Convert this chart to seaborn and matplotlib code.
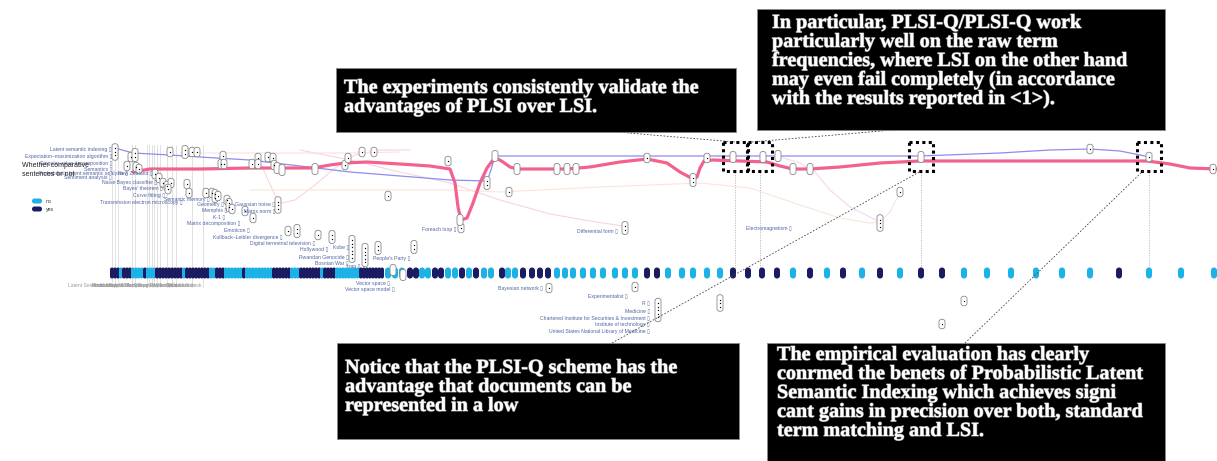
import numpy as np
import pandas as pd
import matplotlib
matplotlib.use("Agg")
import matplotlib.pyplot as plt
import matplotlib.patheffects as pe
from matplotlib.path import Path
from matplotlib.patches import Rectangle, FancyBboxPatch
import seaborn as sns

# ---------------- data ----------------
# sentence track: dense part (sentence positions) and classes (y = comparative, n = not)
dense_pos = [112, 115, 118, 121, 124, 127, 130, 133, 136, 139, 142, 145, 148, 151, 154,
             157, 160, 163, 166, 169, 172, 175, 178, 181, 184, 187, 190, 193, 196, 199,
             202, 205, 208, 211, 214, 217, 220, 223, 226, 229, 232, 235, 238, 241, 244,
             247, 250, 253, 256, 259, 262, 265, 268, 271, 274, 277, 280, 283, 286, 289,
             292, 295, 298, 301, 304, 307, 310, 313, 316, 319, 322, 325, 328, 331, 334,
             337, 340, 343, 346, 349, 352, 355, 358, 361, 364, 367, 370, 373, 376, 379, 382]
dense_cls = list("yyynyyy" "nnnnynnn" "yyyyy" "yyyynyyyyyyyy" "nn" "yyy"
                 "nnnnnnynnnnnnnnn" "yyy" "yyynnn" "yyyyyyynyyyy" "nnnnnnnn" "yyyyyyyy")

sparse_pos = [388, 395, 402, 410, 416, 422, 428, 435, 441, 448, 455, 462, 469, 476, 484, 491,
              502, 508, 515, 523, 532, 540, 548, 557, 565, 573, 583, 593, 603, 615, 625, 635,
              647, 657, 668, 682, 693, 707, 720, 733, 748, 762, 777,
              793, 810, 827, 843, 862, 880, 900, 921, 942, 964, 987, 1011, 1036, 1062, 1090,
              1119, 1149, 1181, 1214]
sparse_cls = list("nnnyynnyynnynynn" "ynnyyyynnnnnnnnnyynnnnnyyyy" "nynynynyynnnnnnynnn")

# main (pink) similarity curve
pink_x = [133, 150, 200, 250, 290, 313, 330, 345, 367, 400, 430, 450, 455, 458, 461, 467,
          473, 480, 487, 493, 498, 503, 510, 517, 540, 567, 590, 620, 647, 667, 680, 693,
          697, 700, 704, 713, 767, 780, 793, 810, 840, 880, 920, 1000, 1100, 1147, 1170,
          1190, 1217]
pink_y = [172, 169, 169, 168, 168, 168, 165, 163, 162, 164, 166, 169, 183, 207, 220, 218,
          203, 183, 168, 160, 159, 162, 167, 169, 169, 169, 167, 162, 159, 163, 172, 179,
          177, 168, 161, 160, 162, 166, 169, 169, 167, 163, 161, 161, 161, 161, 164,
          168, 169]

# secondary (blue) curve
blue_x = [115, 133, 170, 200, 250, 283, 300, 350, 400, 450, 487, 491, 495, 520, 600, 700,
          780, 850, 920, 1000, 1050, 1090, 1120, 1140, 1149]
blue_y = [148, 153, 155, 157, 160, 164, 166, 172, 176, 180, 181, 170, 156, 156, 156, 156,
          156, 156, 156, 153, 150, 149, 151, 155, 157]

# faint topic curves
faint = {
    "f1": ([262, 268, 275, 282, 295, 315, 335, 355, 380, 410],
           [166, 180, 195, 203, 200, 185, 168, 155, 150, 150], "#f9d3e0"),
    "f2": ([300, 350, 400, 450, 500, 550, 590, 623],
           [150, 160, 172, 183, 200, 214, 221, 226], "#f9d3e0"),
    "f3": ([250, 350, 450, 500, 600, 700, 750, 800, 840, 870, 880, 890, 900],
           [190, 190, 190, 192, 187, 183, 188, 205, 218, 223, 222, 212, 192], "#fbe5da"),
    "f4": ([780, 800, 815, 830, 850, 880],
           [157, 163, 172, 190, 207, 222], "#f7d6ec"),
    "f5": ([180, 250, 300, 345, 400],
           [153, 153, 153, 153, 152], "#fce0e8"),
}

# topic markers: x, y, number of dots
topic_x = [115, 131, 135, 127, 136, 139, 155, 159, 163, 167, 171, 168, 170, 185, 192, 197,
           187, 189, 206, 212, 215, 218, 223, 221, 224, 227, 229, 232, 245, 253, 252, 258,
           258, 268, 273, 274, 277, 282, 278, 288, 297, 318, 315, 345, 348, 362, 374, 388,
           332, 352, 365, 378, 414, 448, 461, 460, 487, 495, 517, 509, 393, 403, 549, 557,
           567, 576, 647, 693, 707, 733, 763, 778, 793, 810, 900, 880, 921, 1090, 1149,
           1213, 625, 635, 658, 720, 964, 942]
topic_y = [152, 157, 155, 166, 167, 169, 174, 178, 183, 186, 183, 189, 152, 152, 152, 152,
           184, 193, 193, 193, 196, 196, 156, 164, 164, 200, 205, 209, 211, 218, 164, 158,
           164, 157, 158, 165, 168, 170, 205, 231, 231, 235, 169, 165, 158, 152, 152, 196,
           237, 249, 255, 248, 247, 161, 228, 220, 183, 156, 169, 192, 270, 275, 288, 169,
           169, 169, 158, 180, 158, 157, 157, 156, 169, 169, 192, 223, 157, 149, 157,
           169, 228, 287, 310, 303, 301, 324]
topic_n = [3, 1, 2, 1, 1, 1, 1, 1, 1, 1, 1, 1, 1, 2, 1, 1,
           1, 1, 1, 1, 2, 1, 1, 1, 1, 1, 2, 1, 1, 1, 1, 1,
           1, 1, 1, 1, 0, 0, 3, 1, 2, 1, 0, 1, 1, 1, 1, 1,
           2, 6, 5, 2, 2, 1, 1, 0, 2, 0, 0, 1, 0, 0, 1, 0,
           0, 0, 1, 2, 1, 0, 0, 0, 0, 0, 1, 3, 0, 1, 1,
           1, 2, 1, 5, 3, 1, 1]

# topic labels: text, right end, y
topic_labels = [
    ("Latent semantic indexing", 112, 149),
    ("Expectation\u2013maximization algorithm", 112, 156),
    ("Singular value decomposition", 112, 163),
    ("Semantics", 112, 169),
    ("Probabilistic latent semantic analysis", 128, 173),
    ("Sentiment analysis", 112, 177),
    ("New Zealand", 153, 173),
    ("Naive Bayes classifier", 157, 182),
    ("Bayes' theorem", 163, 188),
    ("Curve fitting", 165, 195),
    ("Transmission electron microscopy", 183, 202),
    ("Semantic memory", 210, 199),
    ("Geometry", 224, 204),
    ("Memphis", 227, 210),
    ("K-1", 225, 217),
    ("Gaussian noise", 275, 204),
    ("Matrix norm", 275, 211),
    ("Matrix decomposition", 240, 223),
    ("Emoticon", 250, 230),
    ("Kullback\u2013Leibler divergence", 283, 237),
    ("Digital terrestrial television", 315, 243),
    ("Hollywood", 328, 249),
    ("Kobe", 349, 247),
    ("Rwandan Genocide", 349, 257),
    ("Bosnian War", 349, 263),
    ("Iraq", 360, 266),
    ("People's Party", 410, 258),
    ("Vector space", 390, 283),
    ("Vector space model", 395, 289),
    ("Bayesian network", 543, 288),
    ("Foreach loop", 457, 229),
    ("Differential form", 618, 231),
    ("Electromagnetism", 792, 228),
    ("Experimentalist", 628, 296),
    ("R", 650, 303),
    ("Medicine", 650, 311),
    ("Chartered Institute for Securities & Investment", 650, 318),
    ("Institute of technology", 650, 324),
    ("United States National Library of Medicine", 650, 331),
]

# overlapping section tick labels under the dense track
tick_labels = ["Abstract", "Introduction", "Latent Semantic Analysis", "Probabilistic LSA",
               "Aspect Model", "Model Fitting", "Tempered EM", "Experiments", "Perplexity",
               "Retrieval", "Results", "Discussion", "Conclusion", "Outlook"]
tick_pos = [112, 118, 124, 130, 139, 148, 157, 166, 172, 178, 184, 190, 196, 202]

# grey guide lines in the dense region
guide_pos = [112, 115, 118, 132, 135, 147, 149, 152, 154, 157, 160, 167, 172, 176, 192, 203]

# highlighted sentences and their annotations
highlight_pos = [735, 760, 921, 1149]
annotations = [
    ["The experiments consistently validate the", "advantages of PLSI over LSI."],
    ["In particular, PLSI-Q/PLSI-Q work", "particularly well on the raw term",
     "frequencies, where LSI on the other hand", "may even fail completely (in accordance",
     "with the results reported in <1>)."],
    ["Notice that the PLSI-Q scheme has the", "advantage that documents can be",
     "represented in a low"],
    ["The empirical evaluation has clearly", "conrmed the benets of Probabilistic Latent",
     "Semantic Indexing which achieves signi", "cant gains in precision over both, standard",
     "term matching and LSI."],
]

# ---------------- style ----------------
CYAN = "#1cb2e6"
NAVY = "#1b1b62"
PINK = "#f2628c"
BLUE = "#8c8cf2"
LABEL = "#5165a3"
SANS = ["Liberation Sans", "DejaVu Sans"]

sns.set_theme(style="white")
plt.rcParams["font.family"] = SANS


def pill(w, h):
    r = w / 2.0
    yc = h / 2.0 - r
    t1 = np.linspace(0, np.pi, 16)
    t2 = np.linspace(np.pi, 2 * np.pi, 16)
    xs = np.concatenate([r * np.cos(t1), r * np.cos(t2)])
    ys = np.concatenate([yc + r * np.sin(t1), -yc + r * np.sin(t2)])
    verts = np.column_stack([xs, ys])
    verts = np.vstack([verts, verts[:1]])
    codes = [Path.MOVETO] + [Path.LINETO] * (len(verts) - 2) + [Path.CLOSEPOLY]
    return Path(verts, codes)


fig = plt.figure(figsize=(12.17, 4.61), dpi=100)
fig.patch.set_facecolor("white")
ax = fig.add_axes([0, 0, 1, 1])
ROW = 273
PX = 0.72  # points per pixel

# guides
for gx in guide_pos:
    ax.plot([gx, gx], [145, 287], color="#dcdcdc", lw=0.6, zorder=1)
for hx in highlight_pos:
    ax.plot([hx, hx], [172, 268], color="#b5b5b5", lw=0.6, ls=(0, (1.5, 1.5)), zorder=1)

# faint curves
for key, (fx, fy, fc) in faint.items():
    sns.lineplot(x=fx, y=fy, ax=ax, color=fc, lw=0.8, sort=False, estimator=None, zorder=2)

# blue and pink curves
sns.lineplot(x=blue_x, y=blue_y, ax=ax, color=BLUE, lw=0.9, sort=False, estimator=None, zorder=3)
sns.lineplot(x=pink_x, y=pink_y, ax=ax, color=PINK, lw=2.3, sort=False, estimator=None,
             zorder=4, solid_capstyle="round", solid_joinstyle="round")

# sentence track
pal = {"n": CYAN, "y": NAVY}
dense_df = pd.DataFrame({"pos": dense_pos, "row": ROW, "cls": dense_cls})
sparse_df = pd.DataFrame({"pos": sparse_pos, "row": ROW, "cls": sparse_cls})
sns.scatterplot(data=dense_df, x="pos", y="row", hue="cls", palette=pal, marker=pill(4, 11),
                s=(11 * PX) ** 2, linewidth=0, legend=False, ax=ax, zorder=3)
sns.scatterplot(data=sparse_df, x="pos", y="row", hue="cls", palette=pal, marker=pill(6, 11),
                s=(11 * PX) ** 2, linewidth=0, legend=False, ax=ax, zorder=3)

# topic markers
for tx, ty, tn in zip(topic_x, topic_y, topic_n):
    h = 11 if tn == 0 else 6 + 3.5 * tn
    ax.add_patch(FancyBboxPatch((tx - 3, ty - h / 2), 6, h,
                                boxstyle="round,pad=0,rounding_size=2.6",
                                fc="white", ec="#8a8a8a", lw=0.6, zorder=5))
    if tn:
        dy = (np.arange(tn) - (tn - 1) / 2.0) * 3.5
        ax.scatter([tx] * tn, ty + dy, s=0.9, color="black", zorder=6, linewidths=0)

# topic labels
for txt, xe, ye in topic_labels:
    ax.text(xe, ye, txt + " \u25af", ha="right", va="center", fontsize=3.7,
            color=LABEL, family=SANS, zorder=6)

# tick labels
for txt, xp in zip(tick_labels, tick_pos):
    ax.text(xp, 285, txt, ha="right", va="center", fontsize=3.6, color="#9a9a9a",
            family=SANS, zorder=2)

# legend
ax.text(22, 165, "Whether comparative", fontsize=5.0, color="#222222", va="center", zorder=7)
ax.text(22, 174, "sentences or not", fontsize=5.0, color="#222222", va="center", zorder=7)
for ly, lab, col in [(201, "no", CYAN), (209, "yes", NAVY)]:
    ax.add_patch(FancyBboxPatch((32, ly - 2.5), 10, 5, boxstyle="round,pad=0,rounding_size=2.4",
                                fc=col, ec="none", zorder=7))
    ax.text(46, ly, lab, fontsize=3.8, color="#333333", va="center", zorder=7)

# highlight squares
for hx in highlight_pos:
    ax.add_patch(Rectangle((hx - 12, 142), 24, 29, fill=False, ec="black", lw=2.2,
                           ls=(0, (1, 1.1)), zorder=8))

# connectors
conn = [((617, 132), (735, 142)), ((893, 130), (752, 142)),
        ((612, 343), (921, 171)), ((965, 343), (1143, 171))]
for (x0, y0), (x1, y1) in conn:
    ax.plot([x0, x1], [y0, y1], color="#444444", lw=0.6, ls=(0, (2, 2)), zorder=8)

# annotation boxes
glow = [pe.withStroke(linewidth=0.9, foreground="#f4f4f4", alpha=0.5)]
boxes = [(336, 68, 736, 132, 344, 93), (757, 9, 1165, 130, 772, 28),
         (337, 343, 739, 439, 345, 373), (767, 343, 1165, 475, 777, 360)]
for (x0, y0, x1, y1, tx, base), lines in zip(boxes, annotations):
    ax.add_patch(Rectangle((x0, y0), x1 - x0, y1 - y0, fc="black", ec="#888888", lw=0.6,
                           zorder=9))
    for i, line in enumerate(lines):
        ax.text(tx, base + 19 * i, line, ha="left", va="baseline", fontsize=14.5,
                fontweight="bold", color="white", family=["Liberation Serif", "DejaVu Serif"],
                zorder=10, path_effects=glow)

ax.set_xlim(0, 1217)
ax.set_ylim(461, 0)
ax.set_axis_off()
fig.savefig("out.png", dpi=100, facecolor="white")
